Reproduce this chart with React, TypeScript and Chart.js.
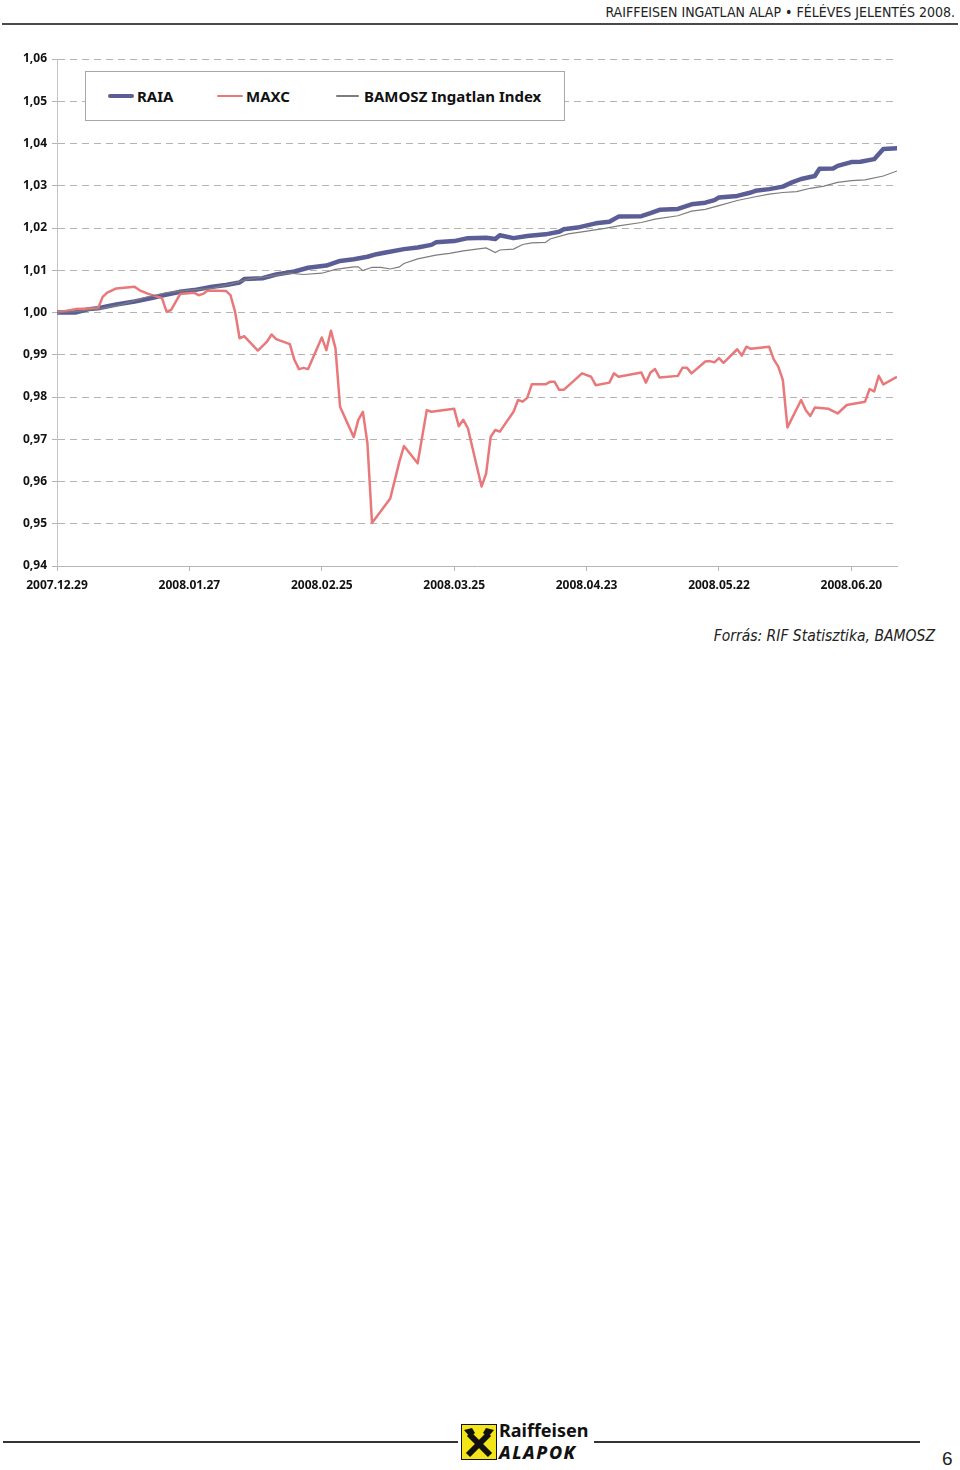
import React, { useEffect, useRef } from "react";
import { Chart, registerables } from "chart.js";

Chart.register(...registerables);

// ---- data (day offsets from 2007.12.29) ----
const xTickDays = [0, 29, 58, 87, 116, 145, 174];
const xTickLabels = ["2007.12.29", "2008.01.27", "2008.02.25", "2008.03.25", "2008.04.23", "2008.05.22", "2008.06.20"];
const yTickValues = [0.94, 0.95, 0.96, 0.97, 0.98, 0.99, 1.0, 1.01, 1.02, 1.03, 1.04, 1.05, 1.06];

const raiaDays = [0, 4, 7, 9, 13, 17, 21, 23, 27, 30, 34, 37, 40, 41, 45, 48, 52, 55, 59, 62, 65, 68, 70, 72, 76, 79, 82, 83, 87, 90, 94, 96, 97, 100, 103, 107, 110, 111, 114, 118, 121, 123, 128, 130, 132, 136, 139, 142, 144, 145, 149, 152, 153, 156, 159, 161, 163, 166, 167, 170, 171, 174, 176, 179, 181, 184];
const raiaValues = [1.0, 1.0, 1.0008, 1.001, 1.0019, 1.0026, 1.0035, 1.004, 1.0049, 1.0053, 1.0061, 1.0065, 1.0071, 1.0079, 1.0081, 1.009, 1.0097, 1.0106, 1.0111, 1.0122, 1.0126, 1.0132, 1.0138, 1.0142, 1.015, 1.0154, 1.016, 1.0166, 1.0169, 1.0176, 1.0177, 1.0174, 1.0183, 1.0176, 1.0181, 1.0185, 1.0191, 1.0197, 1.0201, 1.0211, 1.0215, 1.0227, 1.0228, 1.0235, 1.0243, 1.0245, 1.0256, 1.026, 1.0266, 1.0272, 1.0276, 1.0284, 1.0288, 1.0292, 1.0298, 1.0308, 1.0316, 1.0323, 1.034, 1.0341, 1.0347, 1.0356, 1.0357, 1.0363, 1.0387, 1.0389];

const maxcDays = [0, 4, 9, 10, 11, 13, 17, 18, 20, 23, 24, 25, 27, 30, 31, 32, 33, 37, 38, 39, 40, 41, 44, 46, 47, 48, 51, 52, 53, 54, 55, 58, 59, 60, 61, 62, 65, 66, 67, 68, 69, 73, 75, 76, 79, 81, 82, 87, 88, 89, 90, 93, 94, 95, 96, 97, 100, 101, 102, 103, 104, 107, 108, 109, 110, 111, 115, 117, 118, 121, 122, 123, 128, 129, 130, 131, 132, 136, 137, 138, 139, 142, 143, 144, 145, 146, 149, 150, 151, 152, 156, 157, 158, 159, 160, 163, 164, 165, 166, 169, 171, 173, 177, 178, 179, 180, 181, 184];
const maxcValues = [1.0, 1.0008, 1.001, 1.0037, 1.0047, 1.0057, 1.0061, 1.0053, 1.0044, 1.0034, 1.0002, 1.0006, 1.0044, 1.0047, 1.0041, 1.0044, 1.0052, 1.0051, 1.0041, 1.0002, 0.9939, 0.9944, 0.991, 0.9931, 0.9948, 0.9937, 0.9925, 0.9888, 0.9866, 0.9869, 0.9866, 0.9941, 0.9911, 0.9957, 0.9915, 0.9777, 0.9705, 0.9746, 0.9765, 0.969, 0.9502, 0.956, 0.9647, 0.9684, 0.9643, 0.9769, 0.9765, 0.9772, 0.9731, 0.9746, 0.9726, 0.9588, 0.9619, 0.9706, 0.9722, 0.9718, 0.9765, 0.9793, 0.9789, 0.9798, 0.983, 0.983, 0.9836, 0.9836, 0.9817, 0.9817, 0.9856, 0.9848, 0.9828, 0.9834, 0.9856, 0.9848, 0.9858, 0.9834, 0.9858, 0.9866, 0.9846, 0.985, 0.9869, 0.9869, 0.9856, 0.9884, 0.9885, 0.9882, 0.9892, 0.9881, 0.9913, 0.9898, 0.9919, 0.9914, 0.9919, 0.9889, 0.9872, 0.984, 0.9728, 0.9793, 0.9769, 0.9755, 0.9775, 0.9772, 0.9761, 0.9781, 0.9789, 0.9819, 0.9813, 0.985, 0.983, 0.9848];

const bamoszDays = [0, 4, 9, 14, 19, 24, 29, 34, 38, 42, 46, 51, 54, 58, 61, 65, 66, 67, 69, 71, 73, 75, 76, 79, 83, 86, 89, 94, 96, 97, 100, 102, 104, 107, 108, 112, 115, 120, 123, 128, 131, 136, 139, 142, 145, 149, 153, 156, 159, 162, 165, 168, 171, 174, 177, 181, 184];
const bamoszValues = [1.0, 1.0002, 1.0008, 1.0018, 1.0035, 1.0047, 1.0053, 1.0057, 1.0067, 1.0079, 1.0085, 1.0093, 1.009, 1.0093, 1.0102, 1.0108, 1.0108, 1.0099, 1.0107, 1.0107, 1.0103, 1.0108, 1.0116, 1.0127, 1.0136, 1.014, 1.0146, 1.0153, 1.0142, 1.0148, 1.015, 1.0161, 1.0165, 1.0166, 1.0174, 1.0186, 1.0191, 1.0199, 1.0205, 1.0213, 1.0221, 1.0229, 1.024, 1.0244, 1.0253, 1.0265, 1.0274, 1.028, 1.0284, 1.0286, 1.0294, 1.0299, 1.0308, 1.0312, 1.0314, 1.0323, 1.0335];

const seriesNames = ["RAIA", "MAXC", "BAMOSZ Ingatlan Index"];
const seriesColors = ["#5b5e96", "#e9787b", "#7d7d7d"];

const toPoints = (days: number[], vals: number[]) => days.map((d, i) => ({ x: d, y: vals[i] }));

const tickFont = { family: "'Noto Sans', 'DejaVu Sans', sans-serif", size: 12, weight: "bold" as const };

export default function App() {
  const canvasRef = useRef<HTMLCanvasElement | null>(null);

  useEffect(() => {
    if (!canvasRef.current) return;
    const chart = new Chart(canvasRef.current, {
      type: "line",
      data: {
        datasets: [
          {
            label: seriesNames[0],
            data: toPoints(raiaDays, raiaValues),
            borderColor: seriesColors[0],
            borderWidth: 4.5,
            pointRadius: 0,
            tension: 0,
            borderJoinStyle: "round",
            borderCapStyle: "round",
            order: 3,
          },
          {
            label: seriesNames[1],
            data: toPoints(maxcDays, maxcValues),
            borderColor: seriesColors[1],
            borderWidth: 2.5,
            pointRadius: 0,
            tension: 0,
            borderJoinStyle: "round",
            order: 2,
          },
          {
            label: seriesNames[2],
            data: toPoints(bamoszDays, bamoszValues),
            borderColor: seriesColors[2],
            borderWidth: 1.2,
            pointRadius: 0,
            tension: 0,
            order: 1,
          },
        ],
      },
      options: {
        responsive: false,
        animation: false,
        layout: { padding: { top: 19, right: 3, left: 0, bottom: 0 } },
        plugins: { legend: { display: false }, tooltip: { enabled: false } },
        scales: {
          x: {
            type: "linear",
            min: 0,
            max: 184,
            afterBuildTicks: (axis: any) => {
              axis.ticks = xTickDays.map((v) => ({ value: v }));
            },
            afterFit: (axis: any) => {
              axis.height = 34;
            },
            ticks: {
              autoSkip: false,
              maxRotation: 0,
              padding: 7,
              color: "#111",
              font: tickFont,
              callback: (v: any) => {
                const i = xTickDays.indexOf(Number(v));
                return i >= 0 ? xTickLabels[i] : "";
              },
            },
            grid: {
              display: true,
              drawOnChartArea: false,
              drawTicks: true,
              tickLength: 5,
              tickColor: "#b5b5b5",
              color: "#b5b5b5",
            },
            border: { display: true, color: "#b5b5b5", width: 1 },
          },
          y: {
            type: "linear",
            min: 0.94,
            max: 1.06,
            afterBuildTicks: (axis: any) => {
              axis.ticks = yTickValues.map((v) => ({ value: v }));
            },
            afterFit: (axis: any) => {
              axis.width = 57;
            },
            ticks: {
              padding: 5,
              color: "#111",
              font: tickFont,
              callback: (v: any) => Number(v).toFixed(2).replace(".", ","),
            },
            grid: {
              display: true,
              color: "#b3b3b3",
              lineWidth: 1,
              drawTicks: true,
              tickLength: 5,
              tickColor: "#b3b3b3",
              tickBorderDash: [7, 5],
            },
            border: { display: true, color: "#c4c4c4", width: 1, dash: [7, 5] },
          },
        },
      },
    });
    return () => chart.destroy();
  }, []);

  const narrow = "'Liberation Sans Narrow', 'DejaVu Sans Condensed', 'Liberation Sans', sans-serif";
  const bold = "'Noto Sans', 'DejaVu Sans', sans-serif";

  return (
    <div style={{ position: "absolute", left: 0, top: 0, width: 960, height: 1470, background: "#fff", overflow: "hidden" }}>
      {/* header */}
      <div style={{ position: "absolute", right: 5, top: 3, fontFamily: narrow, fontSize: 14, lineHeight: "18px", color: "#222", whiteSpace: "nowrap" }}>
        RAIFFEISEN INGATLAN ALAP • FÉLÉVES JELENTÉS 2008.
      </div>
      <div style={{ position: "absolute", left: 2, top: 23, width: 956, height: 2, background: "#4a4a4a" }} />

      {/* chart */}
      <canvas ref={canvasRef} width={900} height={560} style={{ position: "absolute", left: 0, top: 40 }} />

      {/* legend */}
      <div style={{ position: "absolute", left: 85, top: 71, width: 478, height: 48, border: "1px solid #a8a8a8", background: "#fff" }}>
        {[0, 1, 2].map((i) => {
          const lefts = [22, 131, 250];
          const widths = [26, 26, 23];
          const thick = [4.5, 2.5, 1.2];
          return (
            <div key={i} style={{ position: "absolute", left: lefts[i], top: 0, height: 48, display: "flex", alignItems: "center" }}>
              <div style={{ width: widths[i], height: thick[i], background: seriesColors[i], borderRadius: 2, marginRight: i === 2 ? 5 : 3 }} />
              <span style={{ fontFamily: bold, fontWeight: 700, fontSize: 15, color: "#111", whiteSpace: "nowrap" }}>{seriesNames[i]}</span>
            </div>
          );
        })}
      </div>

      {/* source */}
      <div style={{ position: "absolute", right: 25, top: 625, fontFamily: narrow, fontStyle: "italic", fontSize: 15.5, lineHeight: "22px", color: "#222", whiteSpace: "nowrap" }}>
        Forrás: RIF Statisztika, BAMOSZ
      </div>

      {/* footer */}
      <div style={{ position: "absolute", left: 3, top: 1441, width: 917, height: 1.5, background: "#333" }} />
      <div style={{ position: "absolute", left: 458, top: 1421, width: 136, height: 42, background: "#fff" }} />
      <svg width={36} height={36} viewBox="0 0 36 36" style={{ position: "absolute", left: 461, top: 1424 }}>
        <rect x={0.5} y={0.5} width={35} height={35} fill="#f2e519" stroke="#111" strokeWidth={1} />
        <line x1={8} y1={10} x2={29} y2={31} stroke="#111" strokeWidth={6} />
        <line x1={28} y1={10} x2={7} y2={31} stroke="#111" strokeWidth={6} />
        <path d="M3 6 L11 4 L14 9 L9 13 Z" fill="#111" />
        <path d="M33 6 L25 4 L22 9 L27 13 Z" fill="#111" />
      </svg>
      <div style={{ position: "absolute", left: 499, top: 1419, fontFamily: bold, fontWeight: 700, fontSize: 18, lineHeight: "22px", color: "#111" }}>Raiffeisen</div>
      <div style={{ position: "absolute", left: 499, top: 1441, fontFamily: bold, fontWeight: 800, fontStyle: "italic", fontSize: 18, lineHeight: "22px", color: "#111", letterSpacing: 1.5 }}>ALAPOK</div>
      <div style={{ position: "absolute", left: 942, top: 1448, fontFamily: "'Liberation Sans', sans-serif", fontSize: 19, lineHeight: "22px", color: "#222" }}>6</div>
    </div>
  );
}
